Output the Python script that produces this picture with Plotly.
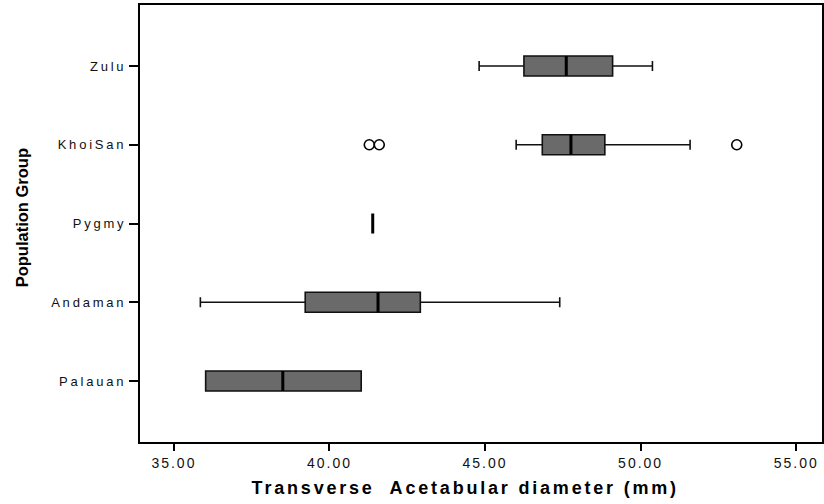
import plotly.graph_objects as go

# ---- data ----
categories = ["Palauan", "Andaman", "Pygmy", "KhoiSan", "Zulu"]
lower_whisker = [36.02, 35.85, 41.39, 46.00, 44.81]
q1_values = [36.02, 39.22, 41.39, 46.84, 46.25]
median_values = [38.50, 41.56, 41.39, 47.76, 47.61]
q3_values = [41.02, 42.92, 41.39, 48.85, 49.10]
upper_whisker = [41.02, 47.40, 41.39, 51.59, 50.38]
outlier_group = ["KhoiSan", "KhoiSan", "KhoiSan"]
outlier_values = [41.28, 41.60, 53.09]
x_tick_values = [35, 40, 45, 50, 55]
x_title = "Transverse  Acetabular diameter (mm)"
y_title = "Population Group"

positions = list(range(len(categories)))
pos_of = {c: i for i, c in enumerate(categories)}
box_width = 0.254
font_family = "Liberation Sans, Arial, sans-serif"

fig = go.Figure()

# main boxes (Pygmy has a single value -> only its median line is drawn)
main_idx = [i for i in positions if categories[i] != "Pygmy"]
fig.add_trace(go.Box(
    orientation="h",
    y=[positions[i] for i in main_idx],
    q1=[q1_values[i] for i in main_idx],
    median=[median_values[i] for i in main_idx],
    q3=[q3_values[i] for i in main_idx],
    lowerfence=[lower_whisker[i] for i in main_idx],
    upperfence=[upper_whisker[i] for i in main_idx],
    width=box_width,
    whiskerwidth=0.5,
    fillcolor="#6a6a6a",
    line=dict(color="#111111", width=1.6),
    boxpoints=False,
    hoverinfo="skip",
    showlegend=False,
))

# thick median lines
fig.add_trace(go.Box(
    orientation="h",
    y=positions,
    q1=median_values,
    median=median_values,
    q3=median_values,
    lowerfence=median_values,
    upperfence=median_values,
    width=box_width,
    whiskerwidth=0,
    fillcolor="#000000",
    line=dict(color="#000000", width=3),
    boxpoints=False,
    hoverinfo="skip",
    showlegend=False,
))

# outliers
fig.add_trace(go.Scatter(
    x=outlier_values,
    y=[pos_of[g] for g in outlier_group],
    mode="markers",
    marker=dict(symbol="circle-open", size=10, color="#000000",
                line=dict(width=1.6, color="#000000")),
    hoverinfo="skip",
    showlegend=False,
))

fig.update_layout(
    width=824,
    height=504,
    margin=dict(l=140, r=0, t=5, b=62),
    plot_bgcolor="white",
    paper_bgcolor="white",
    font=dict(family=font_family, color="#000000"),
    showlegend=False,
    annotations=[
        dict(text=x_title, xref="paper", yref="paper", x=0.4766, y=0,
             xanchor="center", yanchor="middle", yshift=-46, showarrow=False,
             font=dict(size=18, family=font_family, color="#000000", weight="bold")),
        dict(text=y_title, xref="paper", yref="paper", x=-0.1725, y=0.5126,
             xanchor="center", yanchor="middle", textangle=-90, showarrow=False,
             font=dict(size=16.5, family=font_family, color="#000000", weight="bold")),
    ],
)

fig.update_xaxes(
    range=[33.91, 55.83],
    tickvals=x_tick_values,
    tickformat=".2f",
    ticks="outside",
    ticklen=7,
    tickwidth=2,
    tickcolor="#000000",
    tickfont=dict(size=14, family=font_family, color="#111111"),
    showline=True,
    linecolor="#000000",
    linewidth=2,
    mirror=True,
    showgrid=False,
    zeroline=False,
)

fig.update_yaxes(
    range=[-0.775, 4.775],
    tickvals=positions,
    ticktext=categories,
    ticks="outside",
    ticklen=9,
    tickwidth=2,
    tickcolor="#000000",
    tickfont=dict(size=13, family=font_family, color="#111111"),
    showline=True,
    linecolor="#000000",
    linewidth=2,
    mirror=True,
    showgrid=False,
    zeroline=False,
)

post = (
    "document.body.style.margin='0';"
    "document.querySelectorAll('.xtick text').forEach(e=>e.style.letterSpacing='2px');"
    "document.querySelectorAll('.ytick text').forEach(e=>e.style.letterSpacing='2.8px');"
    "var at=document.querySelectorAll('.annotation-text');"
    "if(at.length>0)at[0].style.letterSpacing='2.8px';"
)

fig.write_html("out.html", post_script=post, config={"displayModeBar": False})
